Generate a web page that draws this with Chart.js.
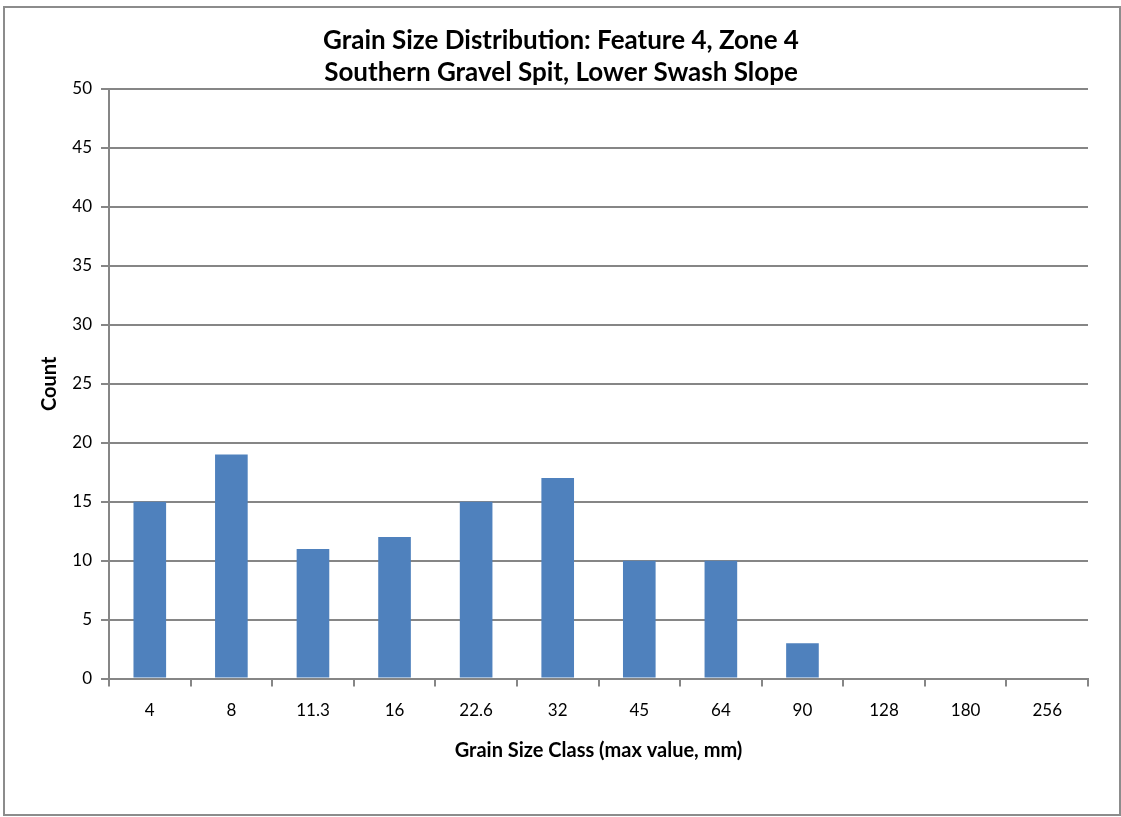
<!DOCTYPE html>
<html><head><meta charset="utf-8">
<script src="https://cdn.jsdelivr.net/npm/chart.js@4"></script>
<style>html,body{margin:0;padding:0;background:#fff}#wrap{width:1121px;height:817px;position:relative}</style>
</head><body><div id="wrap"><canvas id="c" width="1121" height="817"></canvas></div>
<script>
const categories = ["4","8","11.3","16","22.6","32","45","64","90","128","180","256"];
const counts = [15,19,11,12,15,17,10,10,3,0,0,0];
const titleLines = ["Grain Size Distribution: Feature 4, Zone 4","Southern Gravel Spit, Lower Swash Slope"];
const xTitle = "Grain Size Class (max value, mm)";
const yTitle = "Count";
const FONT = "Lato, 'Open Sans', sans-serif";
const gridColor = "#868686";

const borderPlugin = {
  id:'outerBorder',
  beforeDraw(chart){
    const ctx = chart.ctx;
    ctx.save();
    ctx.fillStyle='#fff';ctx.fillRect(0,0,chart.width,chart.height);
    ctx.strokeStyle='#8c8c8c';ctx.lineWidth=2;
    ctx.strokeRect(4,7,1116,808);
    ctx.restore();
  }
};

new Chart(document.getElementById('c'),{
  type:'bar',
  data:{labels:categories,datasets:[{data:counts,backgroundColor:'#4F81BD',borderWidth:0,barPercentage:0.4,categoryPercentage:1}]},
  options:{
    responsive:false,animation:false,
    layout:{padding:{left:34,right:33,top:0,bottom:50}},
    plugins:{
      legend:{display:false},tooltip:{enabled:false},
      title:{display:true,text:titleLines,color:'#000',font:{family:FONT,size:26,weight:'bold',lineHeight:1.23},padding:{top:25,bottom:0}}
    },
    scales:{
      x:{
        grid:{display:true,offset:true,drawOnChartArea:false,color:gridColor,lineWidth:2,tickLength:8},
        border:{display:true,color:gridColor,width:2},
        ticks:{color:'#000',font:{family:FONT,size:17},padding:14,maxRotation:0},
        title:{display:true,text:xTitle,color:'#000',font:{family:FONT,size:20,weight:'bold'},padding:{top:4}}
      },
      y:{
        min:0,max:50,
        grid:{color:gridColor,lineWidth:2,tickLength:8},
        border:{display:true,color:gridColor,width:2},
        ticks:{stepSize:5,color:'#000',font:{family:FONT,size:17},padding:9},
        title:{display:true,text:yTitle,color:'#000',font:{family:FONT,size:20,weight:'bold'},padding:{bottom:12}},
        afterFit(s){s.width=75;}
      }
    }
  },
  plugins:[borderPlugin]
});
</script></body></html>
